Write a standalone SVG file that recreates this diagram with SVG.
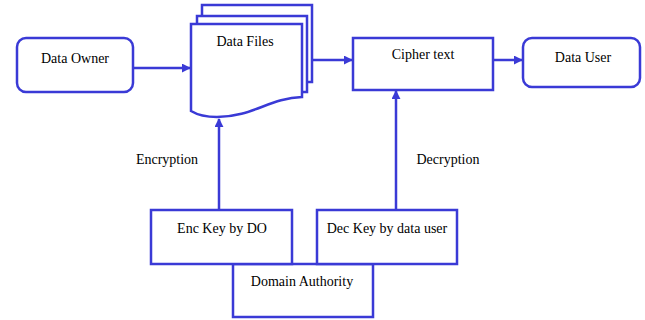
<svg xmlns="http://www.w3.org/2000/svg" width="645" height="320" viewBox="0 0 645 320">
  <style>
    .box { fill: #ffffff; stroke: #3a3ad6; stroke-width: 2.5; }
    .edge { fill: none; stroke: #3a3ad6; stroke-width: 2.5; }
    .lbl { font-family: "Liberation Serif", "Times New Roman", serif; font-size: 14px; fill: #000000; text-anchor: middle; }
  </style>
  <defs>
    <marker id="arrow" viewBox="0 0 10 10" refX="9" refY="5" markerWidth="9" markerHeight="9" markerUnits="userSpaceOnUse" orient="auto">
      <path d="M0,0 L10,5 L0,10 Z" fill="#3a3ad6"/>
    </marker>
  </defs>

  <rect width="645" height="320" fill="#ffffff"/>

  <g id="connectors">
    <line class="edge" x1="133" y1="68" x2="190" y2="68" marker-end="url(#arrow)"/>
    <line class="edge" x1="312" y1="60" x2="352" y2="60" marker-end="url(#arrow)"/>
    <line class="edge" x1="493" y1="60" x2="522" y2="60" marker-end="url(#arrow)"/>
    <line class="edge" x1="219" y1="210" x2="219" y2="119" marker-end="url(#arrow)"/>
    <line class="edge" x1="396" y1="210" x2="396" y2="91" marker-end="url(#arrow)"/>
  </g>

  <g id="data-owner">
    <rect class="box" x="17" y="38" width="116" height="54" rx="9"/>
    <text class="lbl" x="75" y="63">Data Owner</text>
  </g>

  <g id="data-files">
    <rect class="box" x="202" y="5" width="110" height="77"/>
    <rect class="box" x="197" y="16" width="110" height="76"/>
    <path class="box" d="M191,24 H302 V97 C270,98 252,117 217,117 C203,117 196,114 191,111 Z"/>
    <text class="lbl" x="245" y="46">Data Files</text>
  </g>

  <g id="cipher-text">
    <rect class="box" x="353" y="38" width="140" height="52"/>
    <text class="lbl" x="423" y="59">Cipher text</text>
  </g>

  <g id="data-user">
    <rect class="box" x="523" y="38" width="117" height="49" rx="9"/>
    <text class="lbl" x="583" y="62">Data User</text>
  </g>

  <g id="labels">
    <text class="lbl" x="167" y="164">Encryption</text>
    <text class="lbl" x="448" y="164">Decryption</text>
  </g>

  <g id="domain-authority">
    <rect class="box" x="233" y="264" width="140" height="53"/>
    <text class="lbl" x="302" y="286">Domain Authority</text>
  </g>

  <g id="enc-key">
    <rect class="box" x="151" y="210" width="141" height="54"/>
    <text class="lbl" x="222" y="233">Enc Key by DO</text>
  </g>

  <g id="dec-key">
    <rect class="box" x="317" y="210" width="140" height="54"/>
    <text class="lbl" x="387" y="233">Dec Key by data user</text>
  </g>
</svg>
